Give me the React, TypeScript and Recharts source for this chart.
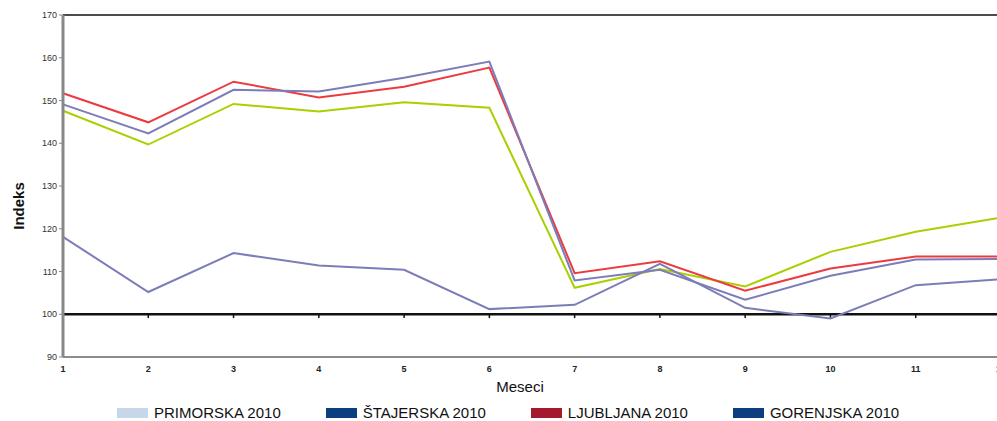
import { LineChart, Line, XAxis, YAxis, ReferenceLine, Label } from "recharts";

const months = [1, 2, 3, 4, 5, 6, 7, 8, 9, 10, 11, 12];

// line values
const redLine = [151.7, 144.9, 154.4, 150.7, 153.2, 157.7, 109.6, 112.4, 105.5, 110.7, 113.5, 113.5];
const greenLine = [147.6, 139.7, 149.2, 147.4, 149.6, 148.3, 106.2, 110.6, 106.5, 114.6, 119.3, 122.6];
const purpleUpper = [149.1, 142.3, 152.5, 152.1, 155.3, 159.1, 107.9, 110.4, 103.4, 109.0, 112.8, 112.9];
const purpleLower = [118.1, 105.2, 114.3, 111.4, 110.4, 101.2, 102.2, 111.8, 101.5, 99.0, 106.8, 108.2];

const yTicks = [90, 100, 110, 120, 130, 140, 150, 160, 170];

const legendNames = ["PRIMORSKA 2010", "ŠTAJERSKA 2010", "LJUBLJANA 2010", "GORENJSKA 2010"];
const legendColors = ["#c7d6e9", "#0b3f80", "#a5192f", "#0b3f80"];

const data = months.map((m, i) => ({
  month: m,
  red: redLine[i],
  green: greenLine[i],
  purpleA: purpleUpper[i],
  purpleB: purpleLower[i],
}));

export default function App() {
  return (
    <div
      style={{
        position: "absolute",
        left: 0,
        top: 0,
        width: 997,
        height: 421,
        overflow: "hidden",
        background: "#fff",
        fontFamily: "'Liberation Sans', Arial, sans-serif",
      }}
    >
      <LineChart width={1005} height={400} data={data} margin={{ top: 15, right: 4, bottom: 0, left: 0 }}>
        <XAxis
          dataKey="month"
          height={43}
          axisLine={{ stroke: "#666", strokeWidth: 1.5 }}
          tickLine={false}
          tickSize={7}
          tick={{ fontSize: 9, fontWeight: "bold", fill: "#222" }}
          interval={0}
        >
          <Label
            value="Meseci"
            position="insideBottom"
            offset={8}
            dx={-12}
            style={{ fontSize: 15, fill: "#111" }}
          />
        </XAxis>
        <YAxis
          width={63}
          domain={[90, 170]}
          ticks={yTicks}
          interval={0}
          axisLine={{ stroke: "#888", strokeWidth: 3 }}
          tickLine={{ stroke: "#888" }}
          tickSize={4}
          tick={{ fontSize: 9, fill: "#333" }}
        >
          <Label
            value="Indeks"
            angle={-90}
            position="insideLeft"
            offset={0}
            dx={19}
            dy={20}
            style={{ fontSize: 15, fontWeight: "bold", fill: "#111", textAnchor: "middle" }}
          />
        </YAxis>
        <ReferenceLine y={170} stroke="#111" strokeWidth={1.5} />
        <ReferenceLine y={100} stroke="#111" strokeWidth={2.5} />
        {months.map((m) => (
          <ReferenceLine
            key={m}
            segment={[
              { x: m, y: 100 },
              { x: m, y: 99.1 },
            ]}
            stroke="#111"
            strokeWidth={1.5}
          />
        ))}
        <Line type="linear" dataKey="green" stroke="#a9d000" strokeWidth={2} dot={false} isAnimationActive={false} />
        <Line type="linear" dataKey="red" stroke="#ec3b40" strokeWidth={2} dot={false} isAnimationActive={false} />
        <Line type="linear" dataKey="purpleA" stroke="#7c7db8" strokeWidth={2} dot={false} isAnimationActive={false} />
        <Line type="linear" dataKey="purpleB" stroke="#7c7db8" strokeWidth={2} dot={false} isAnimationActive={false} />
      </LineChart>

      {/* legend */}
      <div
        style={{
          position: "absolute",
          left: 117,
          top: 404,
          display: "flex",
          alignItems: "center",
          gap: 45,
          fontSize: 15,
          color: "#111",
        }}
      >
        {legendNames.map((name, i) => (
          <div key={name} style={{ display: "flex", alignItems: "center" }}>
            <span style={{ display: "inline-block", width: 31, height: 10, background: legendColors[i], marginRight: 6 }} />
            <span>{name}</span>
          </div>
        ))}
      </div>
    </div>
  );
}
